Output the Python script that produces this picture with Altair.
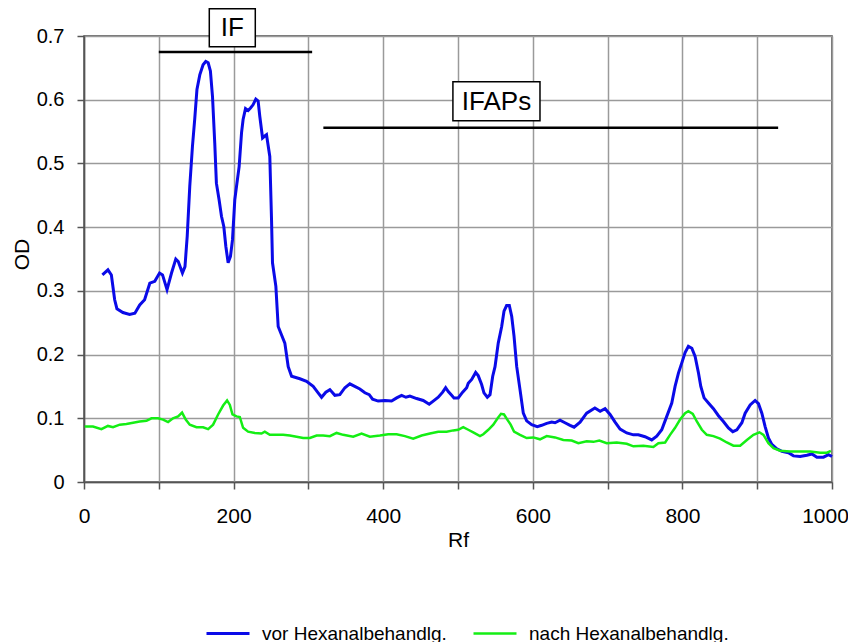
import altair as alt
import pandas as pd

# ---- data ----
blue_x = [24.6, 32, 36.6, 41, 44, 52, 61, 68, 74.5, 81, 88, 94.6, 101, 105, 111, 117, 122.7, 126, 131.6, 135,
          138, 141.4, 145, 148, 151, 154.8, 159.2, 162.8, 166, 169, 171.8, 174.8, 177, 180.6, 183.8, 186.9,
          189.6, 192.7, 195.8, 198.5, 201.6, 203.9, 207.4, 210.6, 212.7, 215.9, 219.4, 222.6, 226, 229.7,
          232.8, 235, 238.7, 241.7, 244, 248.4, 250.7, 252, 256.5, 259.6, 264, 268.5, 273, 277.5, 288.6,
          297.5, 306.4, 313, 317.6, 323.3, 328.7, 335.4, 342, 348.8, 355.4, 362, 368.8, 375.5, 381.3, 385.8,
          393.3, 402.3, 411.2, 418, 424.6, 430.4, 435.7, 444.7, 453.5, 461.5, 466.9, 473.6, 479.5, 483.5,
          487, 491.5, 494.6, 500.3, 506.2, 511.6, 513.7, 518.3, 523.6, 527, 531.6, 534.7, 539.2, 542.8,
          546.4, 549.5, 553.8, 558.4, 561.5, 565, 568.6, 571.8, 574.9, 578.5, 582.9, 587.3, 591.8, 598.5,
          606, 611.9, 618.6, 625.3, 629.7, 636.4, 643, 649.8, 655.2, 663.2, 672, 683, 690, 696.6, 703.3,
          710, 716.7, 725.6, 734.5, 741.1, 750, 759, 765.7, 772.4, 779.1, 785.8, 790.2, 794.7, 799.2, 803.6,
          808, 812.6, 817, 821.5, 824.6, 829, 834.8, 841.5, 848.2, 854.8, 861.5, 867.4, 872.8, 879.5, 883.9,
          890.6, 897.2, 901.7, 906.2, 910.6, 915, 919.6, 926.3, 933, 941.8, 948.5, 957.4, 966.4, 973.1,
          979.8, 988.6, 995.3, 1000]
blue_y = [0.325, 0.333, 0.325, 0.286, 0.272, 0.266, 0.263, 0.265, 0.278, 0.286, 0.312, 0.315, 0.328, 0.325,
          0.302, 0.328, 0.350, 0.346, 0.328, 0.338, 0.386, 0.464, 0.527, 0.569, 0.616, 0.639, 0.655, 0.660,
          0.658, 0.645, 0.605, 0.532, 0.469, 0.443, 0.417, 0.401, 0.370, 0.344, 0.354, 0.380, 0.443, 0.464,
          0.495, 0.548, 0.569, 0.586, 0.583, 0.587, 0.592, 0.601, 0.598, 0.574, 0.540, 0.543, 0.545, 0.511,
          0.412, 0.344, 0.307, 0.244, 0.231, 0.218, 0.181, 0.166, 0.162, 0.158, 0.150, 0.140, 0.133, 0.141,
          0.145, 0.136, 0.137, 0.148, 0.154, 0.150, 0.146, 0.140, 0.137, 0.130, 0.127, 0.128, 0.127, 0.132,
          0.136, 0.133, 0.135, 0.131, 0.128, 0.122, 0.127, 0.133, 0.141, 0.148, 0.142, 0.136, 0.132, 0.132,
          0.141, 0.148, 0.155, 0.161, 0.172, 0.167, 0.153, 0.140, 0.133, 0.137, 0.166, 0.181, 0.218, 0.244,
          0.268, 0.277, 0.277, 0.260, 0.229, 0.181, 0.145, 0.108, 0.096, 0.090, 0.087, 0.089, 0.092, 0.094,
          0.093, 0.097, 0.093, 0.089, 0.086, 0.094, 0.108, 0.116, 0.111, 0.115, 0.106, 0.094, 0.083, 0.077,
          0.074, 0.074, 0.071, 0.066, 0.072, 0.082, 0.103, 0.124, 0.150, 0.171, 0.187, 0.203, 0.213, 0.210,
          0.197, 0.171, 0.150, 0.132, 0.124, 0.115, 0.104, 0.095, 0.085, 0.079, 0.082, 0.093, 0.108, 0.121,
          0.128, 0.123, 0.108, 0.087, 0.069, 0.059, 0.052, 0.048, 0.046, 0.041, 0.040, 0.042, 0.044, 0.039,
          0.039, 0.043, 0.040]

green_x = [1, 12, 23.3, 32, 38.8, 47.8, 56.7, 65.6, 74.5, 83.5, 90.2, 99, 105.7, 112.4, 119, 125.8, 131.1,
           136, 141.4, 150.4, 159.2, 166, 172.6, 179.3, 186, 191.3, 195, 198.5, 203.9, 208.3, 212.7, 219.4,
           228.4, 237.3, 241.7, 248.4, 257.4, 266.2, 275.2, 284.2, 293, 302, 311, 319.7, 328.7, 337.7, 346.5,
           359.9, 371.1, 382.2, 395.6, 406.7, 418, 429, 440.1, 451.4, 462.5, 473.6, 484.8, 493.6, 500.3, 507,
           513.7, 520.4, 529.4, 533.8, 540.5, 547.2, 553, 557.5, 561.5, 565.9, 570.4, 574.9, 582.9, 591.8,
           600.7, 609.6, 618.6, 629.7, 640.8, 652, 660.9, 672, 681, 689, 698.8, 712.2, 725.6, 734.5, 747.8,
           761.2, 767.9, 776.9, 783.5, 790.2, 796.9, 803.6, 808, 813.9, 819.3, 826, 832.6, 841.5, 850.4,
           859.4, 868.2, 877.2, 886.2, 895, 903, 908.4, 915, 921.8, 930.7, 944, 957.4, 970.8, 984.2, 993.2,
           998.5]
green_y = [0.087, 0.087, 0.083, 0.088, 0.086, 0.090, 0.091, 0.093, 0.095, 0.096, 0.100, 0.100, 0.098, 0.094,
           0.100, 0.103, 0.109, 0.098, 0.090, 0.086, 0.086, 0.083, 0.090, 0.106, 0.120, 0.128, 0.121, 0.106,
           0.103, 0.102, 0.085, 0.079, 0.077, 0.076, 0.079, 0.074, 0.074, 0.074, 0.073, 0.071, 0.069, 0.069,
           0.073, 0.073, 0.072, 0.077, 0.074, 0.071, 0.076, 0.071, 0.073, 0.075, 0.075, 0.072, 0.068, 0.073,
           0.076, 0.079, 0.079, 0.081, 0.082, 0.086, 0.082, 0.078, 0.072, 0.075, 0.082, 0.090, 0.100, 0.107,
           0.106, 0.098, 0.090, 0.079, 0.074, 0.069, 0.070, 0.067, 0.072, 0.070, 0.066, 0.065, 0.061, 0.064,
           0.063, 0.065, 0.061, 0.062, 0.060, 0.056, 0.057, 0.055, 0.061, 0.062, 0.074, 0.085, 0.098, 0.108,
           0.111, 0.107, 0.095, 0.082, 0.074, 0.072, 0.068, 0.062, 0.057, 0.057, 0.066, 0.074, 0.078, 0.074,
           0.061, 0.053, 0.049, 0.048, 0.048, 0.048, 0.046, 0.046, 0.049]

series_names = ["vor Hexanalbehandlg.", "nach Hexanalbehandlg."]
series_colors = ["#0a0ae8", "#14ee14"]

# annotations (range bars with boxed labels)
ann_labels = ["IF", "IFAPs"]
ann_bar_x1 = [100, 320]
ann_bar_x2 = [305, 928]
ann_bar_y = [0.675, 0.556]
ann_box_x1 = [167.5, 493.2]
ann_box_x2 = [229, 609.6]
ann_box_y1 = [0.683, 0.567]
ann_box_y2 = [0.7426, 0.628]
ann_text_x = [198.3, 551.4]
ann_text_y = [0.713, 0.597]

x_ticks = list(range(0, 1001, 100))
y_ticks = [0, 0.05, 0.1, 0.15, 0.2, 0.25, 0.3, 0.35, 0.4, 0.45, 0.5, 0.55, 0.6, 0.65, 0.7]

# ---- tables ----
rows = []
for i, (xv, yv) in enumerate(zip(blue_x, blue_y)):
    rows.append({"x": xv, "y": yv, "series": series_names[0], "idx": i})
for i, (xv, yv) in enumerate(zip(green_x, green_y)):
    rows.append({"x": xv, "y": yv, "series": series_names[1], "idx": i})
df = pd.DataFrame(rows)

ann = pd.DataFrame({
    "label": ann_labels,
    "bx1": ann_bar_x1, "bx2": ann_bar_x2, "by": ann_bar_y,
    "rx1": ann_box_x1, "rx2": ann_box_x2, "ry1": ann_box_y1, "ry2": ann_box_y2,
    "tx": ann_text_x, "ty": ann_text_y,
})

FONT = "Liberation Sans"

x_scale = alt.Scale(domain=[0, 1000], nice=False, zero=False)
y_scale = alt.Scale(domain=[0, 0.7], nice=False)

x_axis = alt.Axis(values=x_ticks,
                  labelExpr="datum.value % 200 == 0 ? format(datum.value, 'd') : ''",
                  labelOffset={"condition": {"test": "datum.value == 1000", "value": -7}, "value": 0},
                  title="Rf", titleFontWeight="normal", titleFontSize=21, titleX=374, titleY=64,
                  titleBaseline="alphabetic", titleAlign="center", labelFontSize=21, labelPadding=16,
                  tickSize=7, labelColor="black", titleColor="black", labelFlush=False)
y_axis = alt.Axis(values=y_ticks,
                  labelExpr="round(datum.value*100) % 10 == 0 ? format(datum.value, '~g') : ''",
                  title="OD", titleFontWeight="normal", titleFontSize=21, titleAngle=270,
                  titleX=-56, titleY=218, titleBaseline="alphabetic", titleAlign="center",
                  labelFontSize=20, labelPadding=13, tickSize=7, labelColor="black",
                  titleColor="black", labelFlush=False)

lines = alt.Chart(df).mark_line(interpolate="linear").encode(
    x=alt.X("x:Q", scale=x_scale, axis=x_axis),
    y=alt.Y("y:Q", scale=y_scale, axis=y_axis),
    color=alt.Color("series:N",
                    scale=alt.Scale(domain=series_names, range=series_colors),
                    legend=alt.Legend(orient="none", legendX=121, legendY=574.5, direction="horizontal",
                                      title=None, symbolType="stroke", symbolSize=1849,
                                      symbolStrokeWidth=2.5, labelFontSize=19, labelFont=FONT,
                                      labelColor="black", columnPadding=21, labelOffset=11,
                                      padding=0, labelLimit=400)),
    strokeWidth=alt.StrokeWidth("series:N",
                                scale=alt.Scale(domain=series_names, range=[3.0, 2.5]),
                                legend=None),
    order=alt.Order("idx:Q"),
)

bars = alt.Chart(ann).mark_rule(color="black", strokeWidth=2.5).encode(
    x=alt.X("bx1:Q", scale=x_scale, title="Rf"),
    x2="bx2:Q",
    y=alt.Y("by:Q", scale=y_scale, title="OD"),
)

boxes = alt.Chart(ann).mark_rect(fill="white", stroke="black", strokeWidth=1.5).encode(
    x=alt.X("rx1:Q", scale=x_scale, title="Rf"),
    x2="rx2:Q",
    y=alt.Y("ry1:Q", scale=y_scale, title="OD"),
    y2="ry2:Q",
)

texts = alt.Chart(ann).mark_text(fontSize=26, font=FONT, color="black", align="center",
                                 baseline="middle").encode(
    x=alt.X("tx:Q", scale=x_scale, title="Rf"),
    y=alt.Y("ty:Q", scale=y_scale, title="OD"),
    text="label:N",
)

chart = alt.layer(lines, bars, boxes, texts).properties(
    width=748, height=446,
    autosize=alt.AutoSizeParams(type="none"),
    padding={"left": 76, "top": 28, "right": 16, "bottom": 160},
).configure(font=FONT).configure_view(
    stroke="#444", strokeWidth=1.5
).configure_axis(
    domainColor="#555", domainWidth=1.5, tickColor="#555", tickWidth=1.5,
    gridColor="#9a9a9a", gridWidth=1.5, labelFont=FONT, titleFont=FONT,
)

chart.save("out.html", embed_options={"renderer": "svg", "actions": False})
